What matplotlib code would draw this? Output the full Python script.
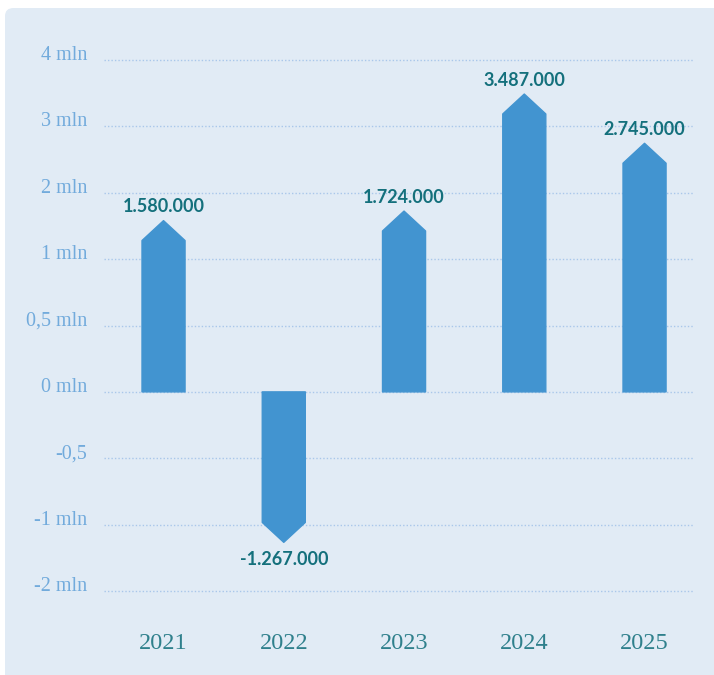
import numpy as np
import matplotlib
matplotlib.use("Agg")
import matplotlib.pyplot as plt
from matplotlib.patches import Polygon, FancyBboxPatch
from matplotlib.transforms import offset_copy

# Data (values in millions)
years = ["2021", "2022", "2023", "2024", "2025"]
values = [1.580, -1.267, 1.724, 3.487, 2.745]
value_labels = ["1.580.000", "-1.267.000", "1.724.000", "3.487.000", "2.745.000"]

# Axis ticks: evenly spaced, non-linear value breaks
tick_values = [-2, -1, -0.5, 0, 0.5, 1, 2, 3, 4]
tick_labels = ["-2 mln", "-1 mln", "-0,5", "0 mln", "0,5 mln", "1 mln", "2 mln", "3 mln", "4 mln"]

tick_pos = np.arange(len(tick_values), dtype=float)


def forward(v):
    return np.interp(v, tick_values, tick_pos)


def inverse(p):
    return np.interp(p, tick_pos, tick_values)


BG = "#e1ebf5"
BAR = "#4294d0"
LABEL = "#14707c"
TICK = "#72abdc"
YEAR = "#2f808c"
GRID = "#a9c7ea"

fig = plt.figure(figsize=(7.14, 6.75), dpi=100, facecolor="white")

# Rounded background panel
panel = FancyBboxPatch((5 / 714, -0.05), 1.1, 0.05 + (675 - 8) / 675,
                       boxstyle="round,pad=0,rounding_size=0.012",
                       transform=fig.transFigure, facecolor=BG,
                       edgecolor="none", zorder=-10)
fig.patches.append(panel)

ax = fig.add_axes([104 / 714, 84 / 675, 589 / 714, 531 / 675], zorder=1)
ax.set_facecolor("none")
ax.set_yscale("function", functions=(forward, inverse))
ax.set_ylim(-2, 4)
ax.set_xlim(-0.495, 4.403)

for s in ax.spines.values():
    s.set_visible(False)

ax.set_yticks(tick_values)
ax.set_yticklabels(tick_labels)
ax.tick_params(axis="y", length=0, pad=12, labelsize=14.5, labelcolor=TICK)
for lab in ax.get_yticklabels():
    lab.set_fontfamily("Liberation Serif")
    lab.set_va("baseline")

x = np.arange(len(years))
ax.set_xticks(x)
ax.set_xticklabels(years)
ax.tick_params(axis="x", length=0, pad=30, labelsize=17.5, labelcolor=YEAR)
for lab in ax.get_xticklabels():
    lab.set_fontfamily("Liberation Serif")

ax.yaxis.grid(True, color=GRID, linestyle=(0, (1, 1.5)), linewidth=1.0)
ax.set_axisbelow(True)
for gl in ax.get_ygridlines():
    gl.set_clip_on(False)

# Arrow-shaped bars
bar_w = 0.358
tip_units = 0.30  # tip height in tick-spacing units
for xi, v, lbl in zip(x, values, value_labels):
    p = forward(v)
    sign = 1 if v >= 0 else -1
    body_end = inverse(p - sign * tip_units)
    verts = [(xi - bar_w / 2, 0), (xi - bar_w / 2, body_end), (xi, v),
             (xi + bar_w / 2, body_end), (xi + bar_w / 2, 0)]
    ax.add_patch(Polygon(verts, closed=True, facecolor=BAR, edgecolor=BAR,
                         linewidth=1.0, joinstyle="round", zorder=3))
    if v >= 0:
        tr = offset_copy(ax.transData, fig=fig, x=0, y=6, units="points")
        ax.text(xi, v, lbl, transform=tr, ha="center", va="baseline",
                fontsize=13, fontweight="bold", fontfamily="Lato",
                color=LABEL, zorder=4)
    else:
        tr = offset_copy(ax.transData, fig=fig, x=0, y=-6, units="points")
        ax.text(xi, v, lbl, transform=tr, ha="center", va="top",
                fontsize=13, fontweight="bold", fontfamily="Lato",
                color=LABEL, zorder=4)

fig.savefig("out.png", dpi=100, facecolor="white")
